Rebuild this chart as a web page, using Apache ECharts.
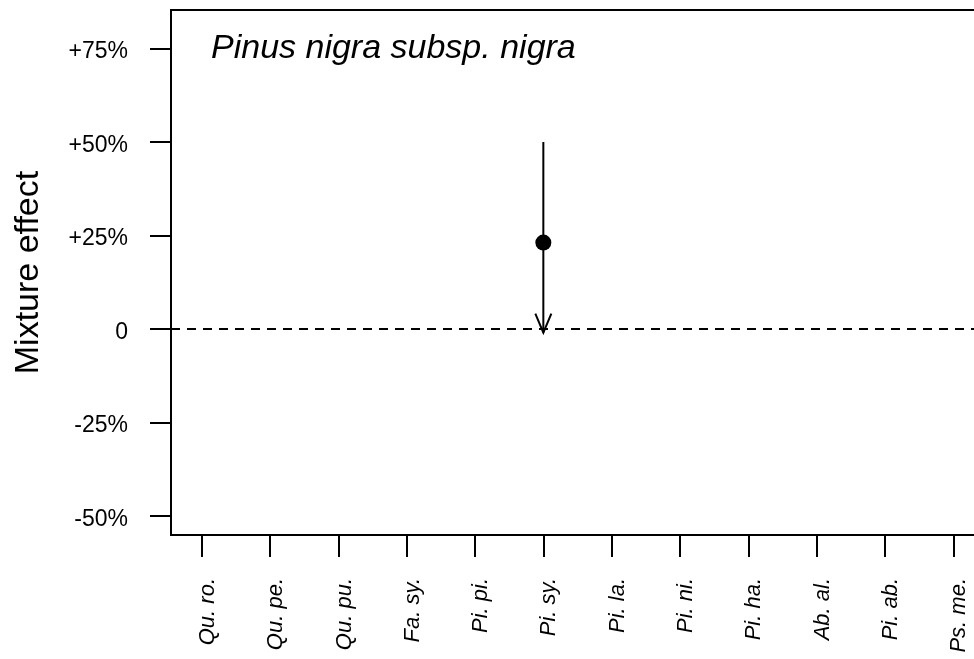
<!DOCTYPE html>
<html>
<head>
<meta charset="utf-8">
<script src="https://cdn.jsdelivr.net/npm/echarts@6/dist/echarts.min.js"></script>
<style>
html,body{margin:0;padding:0;background:#fff;}
#c{width:974px;height:659px;}
</style>
</head>
<body>
<div id="c"></div>
<script>
// ---- data ----
var categories = ['Qu. ro.','Qu. pe.','Qu. pu.','Fa. sy.','Pi. pi.','Pi. sy.','Pi. la.','Pi. ni.','Pi. ha.','Ab. al.','Pi. ab.','Ps. me.'];
var yTicks = [-50, -25, 0, 25, 50, 75];
var pointCategory = ['Pi. sy.'];
var pointValue = [23.1];
var intervalUpper = [50];
var intervalLower = [-1];
var titleText = 'Pinus nigra subsp. nigra';
var yName = 'Mixture effect';

var FONT = "'Liberation Sans', Arial, sans-serif";
var catPos = categories.map(function(c, i){ return i + 1; });
function posOf(name){ return categories.indexOf(name) + 1; }

var pointData = pointCategory.map(function(c, i){ return [posOf(c), pointValue[i]]; });
var intervalData = pointCategory.map(function(c, i){ return [posOf(c), intervalUpper[i], intervalLower[i]]; });

var chart = echarts.init(document.getElementById('c'), null, {renderer: 'canvas'});
chart.setOption({
  backgroundColor: '#fff',
  animation: false,
  title: {
    text: titleText,
    left: 206, top: 27,
    textStyle: {fontFamily: FONT, fontSize: 34, fontStyle: 'italic', fontWeight: 'normal', color: '#000'}
  },
  grid: {
    left: 171, top: 10, right: -10, bottom: 124,
    containLabel: false, outerBoundsMode: 'none',
    show: true, borderColor: '#000', borderWidth: 2, backgroundColor: 'transparent'
  },
  xAxis: {
    type: 'value', min: 0.55, max: 12.45,
    splitLine: {show: false},
    axisLine: {show: false, onZero: false},
    axisTick: {show: true, inside: false, length: 22, customValues: catPos, lineStyle: {color: '#000', width: 2}},
    axisLabel: {
      show: true, customValues: catPos, rotate: 90, margin: 43,
      fontFamily: FONT, fontSize: 22, fontStyle: 'italic', color: '#000',
      verticalAlign: 'top', lineHeight: 12,
      formatter: function(v){ return categories[Math.round(v) - 1] || ''; }
    }
  },
  yAxis: {
    type: 'value', min: -55.1, max: 85.3,
    name: yName, nameLocation: 'middle', nameGap: 125, nameRotate: 90,
    nameTextStyle: {fontFamily: FONT, fontSize: 34, color: '#000'},
    splitLine: {show: false},
    axisLine: {show: false, onZero: false},
    axisTick: {show: true, inside: false, length: 21, customValues: yTicks, lineStyle: {color: '#000', width: 2}},
    axisLabel: {
      show: true, customValues: yTicks, margin: 43,
      fontFamily: FONT, fontSize: 23, color: '#000',
      verticalAlign: 'top', lineHeight: 7,
      formatter: function(v){ return v > 0 ? '+' + v + '%' : (v === 0 ? '0' : v + '%'); }
    }
  },
  series: [
    {
      type: 'custom',
      silent: true,
      data: intervalData,
      renderItem: function(params, api){
        var top = api.coord([api.value(0), api.value(1)]);
        var bot = api.coord([api.value(0), api.value(2)]);
        var style = {stroke: '#000', lineWidth: 2, fill: null};
        return {
          type: 'group',
          children: [
            {type: 'line', shape: {x1: top[0], y1: top[1], x2: bot[0], y2: bot[1]}, style: style},
            {type: 'polyline', shape: {points: [[bot[0] - 8, bot[1] - 19], [bot[0], bot[1]], [bot[0] + 8, bot[1] - 19]]}, style: style}
          ]
        };
      },
      z: 3
    },
    {
      type: 'scatter',
      data: pointData,
      symbol: 'circle',
      symbolSize: 16,
      itemStyle: {color: '#000', opacity: 1},
      z: 4,
      markLine: {
        silent: true,
        symbol: ['none', 'none'],
        label: {show: false},
        lineStyle: {color: '#000', width: 2, type: [9, 7], opacity: 1},
        data: [{yAxis: 0}]
      }
    }
  ]
});
</script>
</body>
</html>
